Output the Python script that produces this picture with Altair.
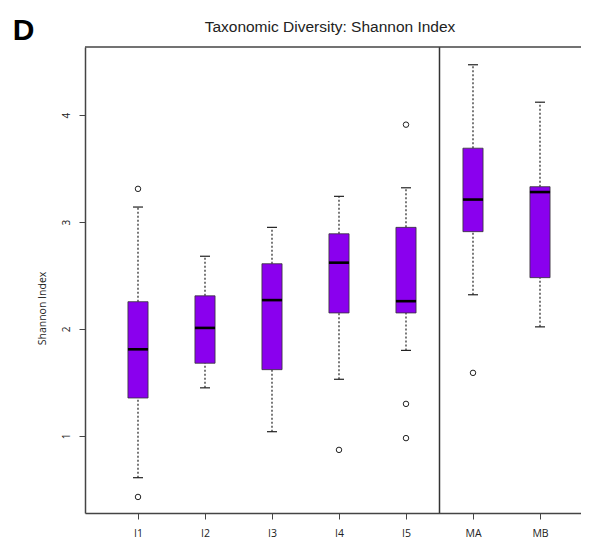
import altair as alt
import pandas as pd

# ---- data ----
groups = ["I1", "I2", "I3", "I4", "I5", "MA", "MB"]
whisker_low = [0.61, 1.45, 1.04, 1.53, 1.80, 2.32, 2.02]
q1 = [1.355, 1.68, 1.62, 2.15, 2.15, 2.91, 2.48]
median = [1.81, 2.01, 2.27, 2.62, 2.26, 3.21, 3.28]
q3 = [2.255, 2.31, 2.61, 2.89, 2.95, 3.69, 3.33]
whisker_high = [3.14, 2.68, 2.95, 3.24, 3.32, 4.47, 4.12]
outlier_group = ["I1", "I1", "I4", "I5", "I5", "I5", "MA"]
outlier_value = [3.31, 0.43, 0.87, 3.91, 1.30, 0.98, 1.59]
y_ticks = [1, 2, 3, 4]
separator_after = "I5"
title_text = "Taxonomic Diversity: Shannon Index"
panel_letter = "D"

pos = {g: i + 1 for i, g in enumerate(groups)}
box_df = pd.DataFrame({
    "group": groups,
    "pos": [pos[g] for g in groups],
    "wlo": whisker_low, "q1": q1, "med": median, "q3": q3, "whi": whisker_high,
})
out_df = pd.DataFrame({"group": outlier_group,
                       "pos": [pos[g] for g in outlier_group],
                       "value": outlier_value})
sep_df = pd.DataFrame({"sep": [pos[separator_after] + 0.5]})
one = pd.DataFrame({"a": [0]})

W, H = 496, 466
xs = alt.Scale(domain=[0.209, 0.209 + W / 67.0], nice=False, zero=False)
ys = alt.Scale(domain=[0.28, 4.636], nice=False, zero=False)

label_expr = "[" + ",".join("'%s'" % g for g in groups) + "][datum.value - 1]"
xax = alt.Axis(values=list(range(1, len(groups) + 1)), labelExpr=label_expr,
               title=None, grid=False, tickSize=6, labelPadding=9,
               labelFontSize=10.5, labelFont="Open Sans", labelColor="#222",
               domainColor="#444", domainWidth=1.5, tickColor="#444", tickWidth=1)
yax = alt.Axis(values=y_ticks, title="Shannon Index", grid=False, tickSize=6,
               labelAngle=270, labelAlign="center", labelBaseline="bottom",
               labelPadding=8, labelFontSize=10, labelFont="Open Sans",
               labelColor="#222", domainColor="#444", domainWidth=1.5,
               tickColor="#444", tickWidth=1,
               titleFont="Open Sans", titleFontSize=10.5, titleFontWeight="normal",
               titleColor="#222", titleAngle=270, titleX=-43, titleY=261,
               titleAlign="center", titleBaseline="middle")

base = alt.Chart(box_df).transform_calculate(
    xl="datum.pos - 0.15", xr="datum.pos + 0.15",
    cl="datum.pos - 0.075", cr="datum.pos + 0.075")

whisk_lo = base.mark_rule(color="#222", strokeDash=[2, 2], strokeWidth=1.2).encode(
    x=alt.X("pos:Q", scale=xs, axis=xax),
    y=alt.Y("wlo:Q", scale=ys, axis=yax), y2="q1:Q")
whisk_hi = base.mark_rule(color="#222", strokeDash=[2, 2], strokeWidth=1.2).encode(
    x=alt.X("pos:Q", scale=xs, axis=xax),
    y=alt.Y("q3:Q", scale=ys, axis=yax), y2="whi:Q")
caps_lo = base.mark_rule(color="#222", strokeWidth=1.2).encode(
    x=alt.X("cl:Q", scale=xs, axis=xax), x2="cr:Q",
    y=alt.Y("wlo:Q", scale=ys, axis=yax))
caps_hi = base.mark_rule(color="#222", strokeWidth=1.2).encode(
    x=alt.X("cl:Q", scale=xs, axis=xax), x2="cr:Q",
    y=alt.Y("whi:Q", scale=ys, axis=yax))
boxes = base.mark_rect(color="#8A00EE", stroke="#333", strokeWidth=0.8).encode(
    x=alt.X("xl:Q", scale=xs, axis=xax), x2="xr:Q",
    y=alt.Y("q1:Q", scale=ys, axis=yax), y2="q3:Q")
meds = base.mark_rule(color="black", strokeWidth=2.6).encode(
    x=alt.X("xl:Q", scale=xs, axis=xax), x2="xr:Q",
    y=alt.Y("med:Q", scale=ys, axis=yax))
outs = alt.Chart(out_df).mark_point(shape="circle", filled=False, size=30,
                                    color="#222", strokeWidth=1, opacity=1).encode(
    x=alt.X("pos:Q", scale=xs, axis=xax),
    y=alt.Y("value:Q", scale=ys, axis=yax))
sep = alt.Chart(sep_df).mark_rule(color="#333", strokeWidth=1.5).encode(
    x=alt.X("sep:Q", scale=xs, axis=xax))
top = alt.Chart(one).mark_rule(color="#444", strokeWidth=1.5).encode(
    x=alt.value(0), x2=alt.value(W), y=alt.value(0))
panel = alt.Chart(one).mark_text(text=panel_letter, fontSize=30, fontWeight="bold",
                                 font="Liberation Sans", align="center",
                                 baseline="alphabetic", color="black").encode(
    x=alt.value(-61.5), y=alt.value(-7))
title = alt.Chart(one).mark_text(text=title_text, fontSize=15.5,
                                 font="Liberation Sans", align="center",
                                 baseline="alphabetic", color="#222").encode(
    x=alt.value(245), y=alt.value(-15))

chart = alt.layer(whisk_lo, whisk_hi, caps_lo, caps_hi, boxes, meds, outs,
                  sep, top, panel, title).properties(
    width=W, height=H,
    autosize=alt.AutoSizeParams(type="none"),
    padding={"left": 77, "top": 39, "right": 0, "bottom": 29},
).configure_view(stroke=None)

chart.save("out.html", embed_options={"renderer": "svg", "actions": False})
